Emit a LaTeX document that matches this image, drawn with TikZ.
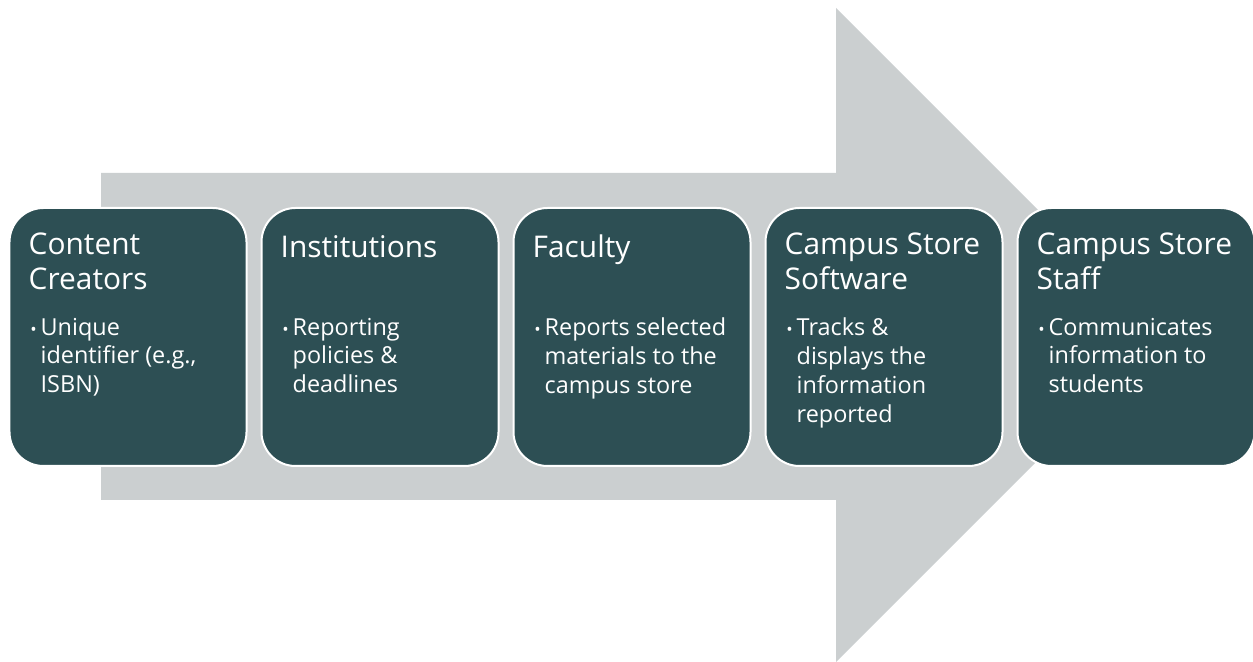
\documentclass[tikz,border=0pt]{standalone}
\usepackage{fontspec}
\setmainfont{Open Sans}
\usetikzlibrary{positioning}
\usepackage{xcolor}

\definecolor{stageteal}{HTML}{2D4F54}
\definecolor{flowgray}{HTML}{CBCFD0}
\newcommand{\dotitem}{\llap{{\fontsize{17}{17}\selectfont •}\hspace{4bp}}}

\begin{document}
\begin{tikzpicture}[x=1bp,y=1bp]
      \tikzstyle{stage} = [rectangle, rounded corners=34bp, draw=white, line width=2bp, fill=stageteal, minimum width=237bp, minimum height=258bp]
      \tikzstyle{heading} = [anchor=north west, inner sep=0pt, text=white, align=left, font=\fontsize{30}{35}\selectfont, execute at begin node=\strut]
      \tikzstyle{detail} = [anchor=north west, inner sep=0pt, text=white, align=left, font=\fontsize{23.5}{29}\selectfont, execute at begin node=\strut]

      \useasboundingbox (0,0) rectangle (1253,662);

      % big arrow behind the stages
      \fill[flowgray] (101,162) -- (836,162) -- (836,0) -- (1163,327) -- (836,654) -- (836,489) -- (101,489) -- cycle;

      \node[stage] (creators) at (128,325) {};
      \node[stage] (institutions) at (380,325) {};
      \node[stage] (faculty) at (632,325) {};
      \node[stage] (software) at (884,325) {};
      \node[stage] (staff) at (1136,325) {};

      % titles: first baseline 50bp below the top edge
      \node[heading] (creatorstitle) at ([xshift=20bp,yshift=-25.5bp]creators.north west) {Content\\Creators};
      \node[heading] (institutionstitle) at ([xshift=20bp,yshift=-25.5bp]institutions.north west) {Institutions};
      \node[heading] (facultytitle) at ([xshift=20bp,yshift=-25.5bp]faculty.north west) {Faculty};
      \node[heading] (softwaretitle) at ([xshift=20bp,yshift=-25.5bp]software.north west) {Campus Store\\Software};
      \node[heading] (stafftitle) at ([xshift=20bp,yshift=-25.5bp]staff.north west) {Campus Store\\Staff};

      % bullet lines: first baseline 131bp below the top edge
      \node[detail] (creatorsnote) at ([xshift=32bp,yshift=-110.7bp]creators.north west) {\dotitem Unique\\identifier (e.g.,\\ISBN)};
      \node[detail] (institutionsnote) at ([xshift=32bp,yshift=-110.7bp]institutions.north west) {\dotitem Reporting\\policies \&\\deadlines};
      \node[detail] (facultynote) at ([xshift=32bp,yshift=-110.7bp]faculty.north west) {\dotitem Reports selected\\materials to the\\campus store};
      \node[detail] (softwarenote) at ([xshift=32bp,yshift=-110.7bp]software.north west) {\dotitem Tracks \&\\displays the\\information\\reported};
      \node[detail] (staffnote) at ([xshift=32bp,yshift=-110.7bp]staff.north west) {\dotitem Communicates\\information to\\students};
\end{tikzpicture}
\end{document}
